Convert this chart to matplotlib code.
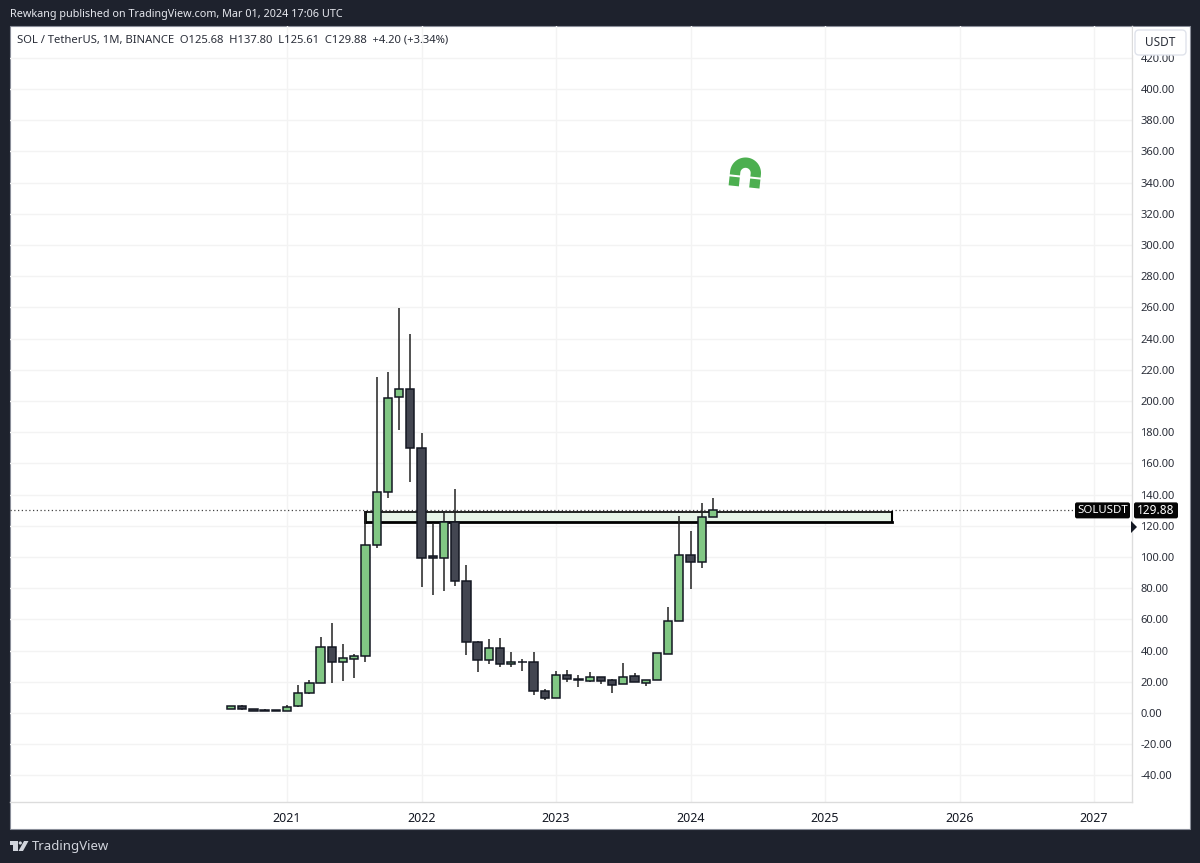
import numpy as np
import matplotlib
matplotlib.use('Agg')
import matplotlib.pyplot as plt
from matplotlib.patches import Rectangle, Polygon, FancyBboxPatch, Circle

plt.rcParams['font.family'] = ['Noto Sans', 'DejaVu Sans']

# monthly candles, Aug 2020 .. Mar 2024
months = list(range(-5, 39))
opens = [2.4, 4.7, 2.8, 1.5, 1.5, 1.1, 4.3, 12.8, 19, 42.5, 32.5, 34.8, 36.3, 108, 141.5, 202.4, 208, 169.7,
         100.5, 99.1, 122.6, 84.4, 45.7, 33.8, 41.9, 31.4, 33, 32.7, 14.1, 9.8, 24.1, 21.6, 20.7, 22.9,
         20.9, 18.4, 23.5, 19.4, 20.9, 38, 59.2, 101, 97, 125.4]
closes = [4.7, 2.8, 1.1, 2.1, 1.9, 4.1, 12.8, 19, 42.5, 32.7, 35, 36.3, 108, 141.5, 201.7, 208, 169.7, 99.6,
          99.6, 122.6, 84.4, 45.7, 33.8, 41.9, 31.4, 33, 32.7, 14, 9.6, 24.1, 21.6, 20.9, 22.9, 20.7,
          18.2, 23.3, 19.7, 20.9, 38.2, 59.2, 101, 97, 125.4, 129.88]
highs = [4.7, 4.9, 2.8, 2.3, 2.0, 4.9, 18, 21, 49, 58, 44, 38, 129.5, 215.6, 218.6, 259.4, 242.7, 179.3,
         122, 129.5, 143.4, 95, 46.4, 47.6, 48.3, 39, 34.6, 39, 15.2, 26.7, 27.4, 24.1, 26, 22.9,
         21.8, 32.3, 25.4, 21.2, 38.2, 68, 126.3, 116.9, 134.8, 137.8]
lows = [2.4, 2.0, 1.1, 1.3, 1.4, 1.0, 4.0, 12.4, 19, 19.4, 20.7, 22.6, 32.5, 106, 138, 181.4, 147.9, 81,
        75.6, 78.2, 81.6, 37.4, 26.3, 31.6, 29.7, 29.7, 27, 11.3, 8.3, 9.8, 20.1, 16.5, 19.9, 18.6,
        13, 18.4, 19.7, 17.5, 20.9, 38, 59.2, 79.3, 92.9, 125.4]

year_ticks = [0, 12, 24, 36, 48, 60, 72]
year_labels = ['2021', '2022', '2023', '2024', '2025', '2026', '2027']
price_ticks = list(range(-40, 421, 20))
last_price = 129.88

W, H = 1200, 863
BG = '#1e222d'
GREEN = '#81c784'
DARK = '#434651'
EDGE = '#131722'
GRID = '#f3f3f3'
SEP = '#dcdcdc'


def axes_rect(x0, y0, x1, y1):
    return [x0 / W, 1 - y1 / H, (x1 - x0) / W, (y1 - y0) / H]


fig = plt.figure(figsize=(12, 8.63), dpi=100, facecolor=BG)

# white panel behind everything
back = fig.add_axes([0, 0, 1, 1], zorder=0)
back.set_xlim(0, W)
back.set_ylim(H, 0)
back.axis('off')
back.add_patch(Rectangle((10, 26), 1180, 803, fc='white', ec='#8a8e99', lw=0.8))

ax = fig.add_axes(axes_rect(10, 26, 1132, 802), zorder=1)
ax.patch.set_alpha(0)
ax.set_xlim((10 - 287) / 11.21, (1132 - 287) / 11.21)
ax.set_ylim((713 - 802) / 1.56, (713 - 26) / 1.56)

for s in ['top', 'left']:
    ax.spines[s].set_visible(False)
for s in ['bottom', 'right']:
    ax.spines[s].set_color(SEP)
    ax.spines[s].set_linewidth(1)

ax.grid(True, color=GRID, lw=1)
ax.set_axisbelow(True)
ax.set_xticks(year_ticks)
ax.set_xticklabels(year_labels, fontsize=9, color='#131722', fontweight='medium')
ax.set_yticks(price_ticks)
ax.set_yticklabels(['%.2f' % p for p in price_ticks], fontsize=8, color='#2a2e39')
ax.yaxis.tick_right()
ax.tick_params(axis='both', length=0)
ax.tick_params(axis='x', pad=7)
ax.tick_params(axis='y', pad=6)

# marked zone
zone_x = (np.array([365, 892]) - 287) / 11.21
ax.fill_between(zone_x, 122.4, 128.8, color='#e8f5e9', zorder=2, lw=0)
ax.plot(zone_x, [128.8, 128.8], color='black', lw=1.2, zorder=2.5)
ax.plot(zone_x, [122.4, 122.4], color='black', lw=2, zorder=2.5)
ax.plot([zone_x[0], zone_x[0]], [122.4, 128.8], color='black', lw=2, zorder=2.5)
ax.plot([zone_x[1], zone_x[1]], [122.4, 128.8], color='black', lw=1.5, zorder=2.5)

# last price line
ax.plot([ax.get_xlim()[0], (1075 - 287) / 11.21], [last_price, last_price], color='#444444',
        lw=0.9, ls=(0, (1, 2)), zorder=2.2)

# candles
colors = [GREEN if c >= o else DARK for o, c in zip(opens, closes)]
ax.vlines(months, lows, highs, color='#222222', lw=1.1, zorder=3)
ax.bar(months, np.abs(np.array(closes) - np.array(opens)), bottom=np.minimum(opens, closes), width=0.74,
       color=colors, edgecolor=EDGE, lw=1.1, zorder=4)

# everything drawn in screen pixels
top = fig.add_axes([0, 0, 1, 1], zorder=2)
top.patch.set_alpha(0)
top.set_xlim(0, W)
top.set_ylim(H, 0)
top.axis('off')

top.text(10, 14, 'Rewkang published on TradingView.com, Mar 01, 2024 17:06 UTC', color='#e6e8ee',
         fontsize=7.8, va='center', ha='left')
top.text(17, 40, 'SOL / TetherUS, 1M, BINANCE  O125.68  H137.80  L125.61  C129.88  +4.20 (+3.34%)',
         color='#2a2e39', fontsize=8.1, va='center', ha='left')

# currency button
top.add_patch(Rectangle((1133, 27), 56, 28, fc='white', ec='none', zorder=5))
top.add_patch(FancyBboxPatch((1135, 30), 51, 25, boxstyle='round,pad=0,rounding_size=4',
                             fc='white', ec='#e0e3eb', lw=1, zorder=6))
top.text(1160.5, 43, 'USDT', color='#2a2e39', fontsize=8.5, ha='center', va='center', zorder=7)

# price tags
y_tag = 713 - last_price * 1.56
top.add_patch(FancyBboxPatch((1075, y_tag - 8), 55, 16, boxstyle='round,pad=0,rounding_size=2',
                             fc='#050505', ec='none', zorder=5))
top.add_patch(FancyBboxPatch((1134, y_tag - 8), 44, 16, boxstyle='round,pad=0,rounding_size=2',
                             fc='#050505', ec='none', zorder=5))
top.text(1102.5, y_tag, 'SOLUSDT', color='white', fontsize=8.2, ha='center', va='center', zorder=6,
         fontweight='medium')
top.text(1156, y_tag, '%.2f' % last_price, color='white', fontsize=8.5, ha='center', va='center',
         fontweight='bold', zorder=6)
top.add_patch(Polygon([(1131, 521), (1137, 527), (1131, 533)], fc='#131722', ec='none', zorder=6))

# magnet icon
t = np.linspace(np.pi, 2 * np.pi, 40)
outer = np.column_stack([15.5 * np.cos(t), 15.5 * np.sin(t)])
inner = np.column_stack([5.2 * np.cos(t[::-1]), 5.2 * np.sin(t[::-1])])
shape = np.vstack([outer, [[15.5, 14], [5.2, 14]], inner, [[-5.2, 14], [-15.5, 14]]])
a = np.deg2rad(6)
rot = np.array([[np.cos(a), -np.sin(a)], [np.sin(a), np.cos(a)]])
top.add_patch(Polygon(shape @ rot.T + [745.5, 173], fc='#4caf50', ec='none', zorder=5))
slit = np.array([[-18, 3], [18, 3], [18, 5], [-18, 5]])
top.add_patch(Polygon(slit @ rot.T + [745.5, 173], fc='white', ec='none', zorder=6))

# TradingView logo
logo = '#d1d4dc'
top.add_patch(Polygon([(9.5, 841), (17.5, 841), (17.5, 851), (12.7, 851), (12.7, 844.5), (9.5, 844.5)],
                      fc=logo, ec='none'))
top.add_patch(Circle((20.3, 843), 1.6, fc=logo, ec='none'))
top.add_patch(Polygon([(24, 841), (28.5, 841), (23, 851), (18.5, 851)], fc=logo, ec='none'))
top.text(32, 846, 'TradingView', color=logo, fontsize=9.5, ha='left', va='center')

fig.savefig('out.png', dpi=100, facecolor=BG)
